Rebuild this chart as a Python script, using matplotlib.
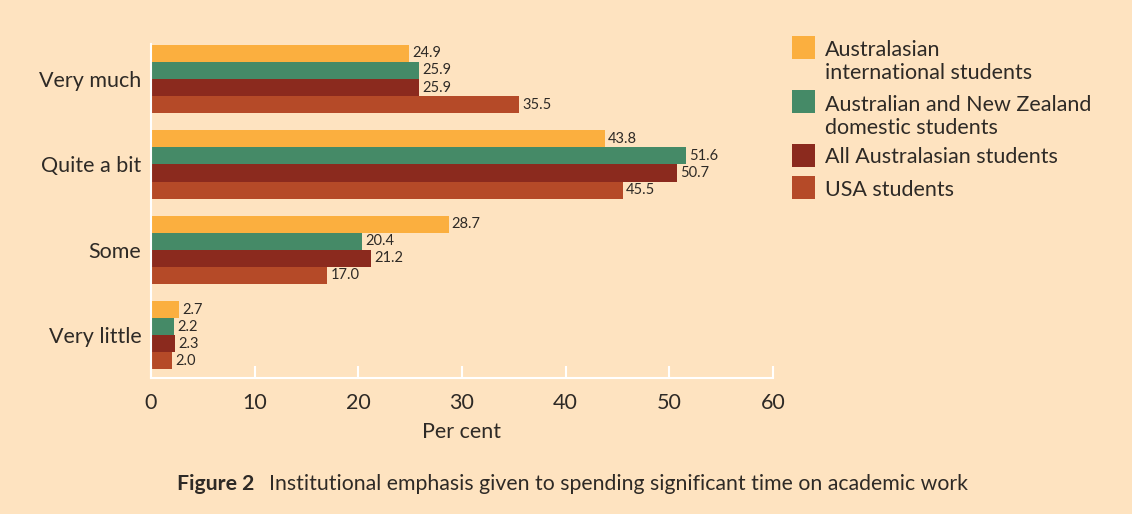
import numpy as np
import matplotlib.pyplot as plt
from matplotlib.patches import Rectangle

plt.rcParams["font.family"] = ["Lato", "DejaVu Sans"]

categories = ["Very much", "Quite a bit", "Some", "Very little"]
series = [
    "Australasian\ninternational students",
    "Australian and New Zealand\ndomestic students",
    "All Australasian students",
    "USA students",
]
values = [
    [24.9, 43.8, 28.7, 2.7],
    [25.9, 51.6, 20.4, 2.2],
    [25.9, 50.7, 21.2, 2.3],
    [35.5, 45.5, 17.0, 2.0],
]
colors = ["#FBAF3F", "#458A67", "#8B2A1E", "#B54A28"]
bg = "#FEE3C0"
txt = "#2e2a26"

fig = plt.figure(figsize=(11.32, 5.14), dpi=100, facecolor=bg)
ax = fig.add_axes([151 / 1132, 1 - 378 / 514, 622 / 1132, 334 / 514])
ax.set_facecolor(bg)

h = 0.2
y = np.arange(len(categories))
for i, (vals, c) in enumerate(zip(values, colors)):
    pos = y + (i - 1.5) * h
    ax.barh(pos, vals, height=h, color=c, edgecolor="none")
    for p, v in zip(pos, vals):
        ax.text(v + 0.3, p, f"{v:.1f}", va="center", ha="left",
                fontsize=10.5, color=txt)

ax.set_xlim(0, 60)
ax.set_ylim(3.5, -0.41)
ax.set_yticks(y)
ax.set_yticklabels(categories, fontsize=15.5, color=txt)
ax.set_xticks(np.arange(0, 61, 10))
ax.tick_params(axis="x", direction="in", length=9, width=1.5, color="white",
               labelsize=15.5, labelcolor=txt, pad=11)
ax.tick_params(axis="y", length=0, pad=7)
for s in ["top", "right"]:
    ax.spines[s].set_visible(False)
for s in ["left", "bottom"]:
    ax.spines[s].set_color("white")
    ax.spines[s].set_linewidth(1.5)
ax.set_xlabel("Per cent", fontsize=15.5, color=txt, labelpad=6)

# legend drawn by hand
sq_tops = [36, 90, 144, 176]
baselines = [56, 111, 163, 196]
for lab, c, top, b in zip(series, colors, sq_tops, baselines):
    fig.add_artist(Rectangle((792 / 1132, 1 - (top + 23) / 514), 23 / 1132, 23 / 514,
                             transform=fig.transFigure, color=c, lw=0))
    for k, line in enumerate(lab.split("\n")):
        fig.text(825 / 1132, 1 - (b + 23 * k) / 514, line, ha="left", va="baseline",
                 fontsize=15.5, color=txt)

fig.text(177 / 1132, 1 - 484 / 514, "Figure 2", ha="left", va="center",
         fontsize=15.3, fontweight="bold", color=txt)
fig.text(269 / 1132, 1 - 484 / 514,
         "Institutional emphasis given to spending significant time on academic work",
         ha="left", va="center", fontsize=15.3, color=txt)

fig.savefig("out.png", dpi=100, facecolor=bg)
